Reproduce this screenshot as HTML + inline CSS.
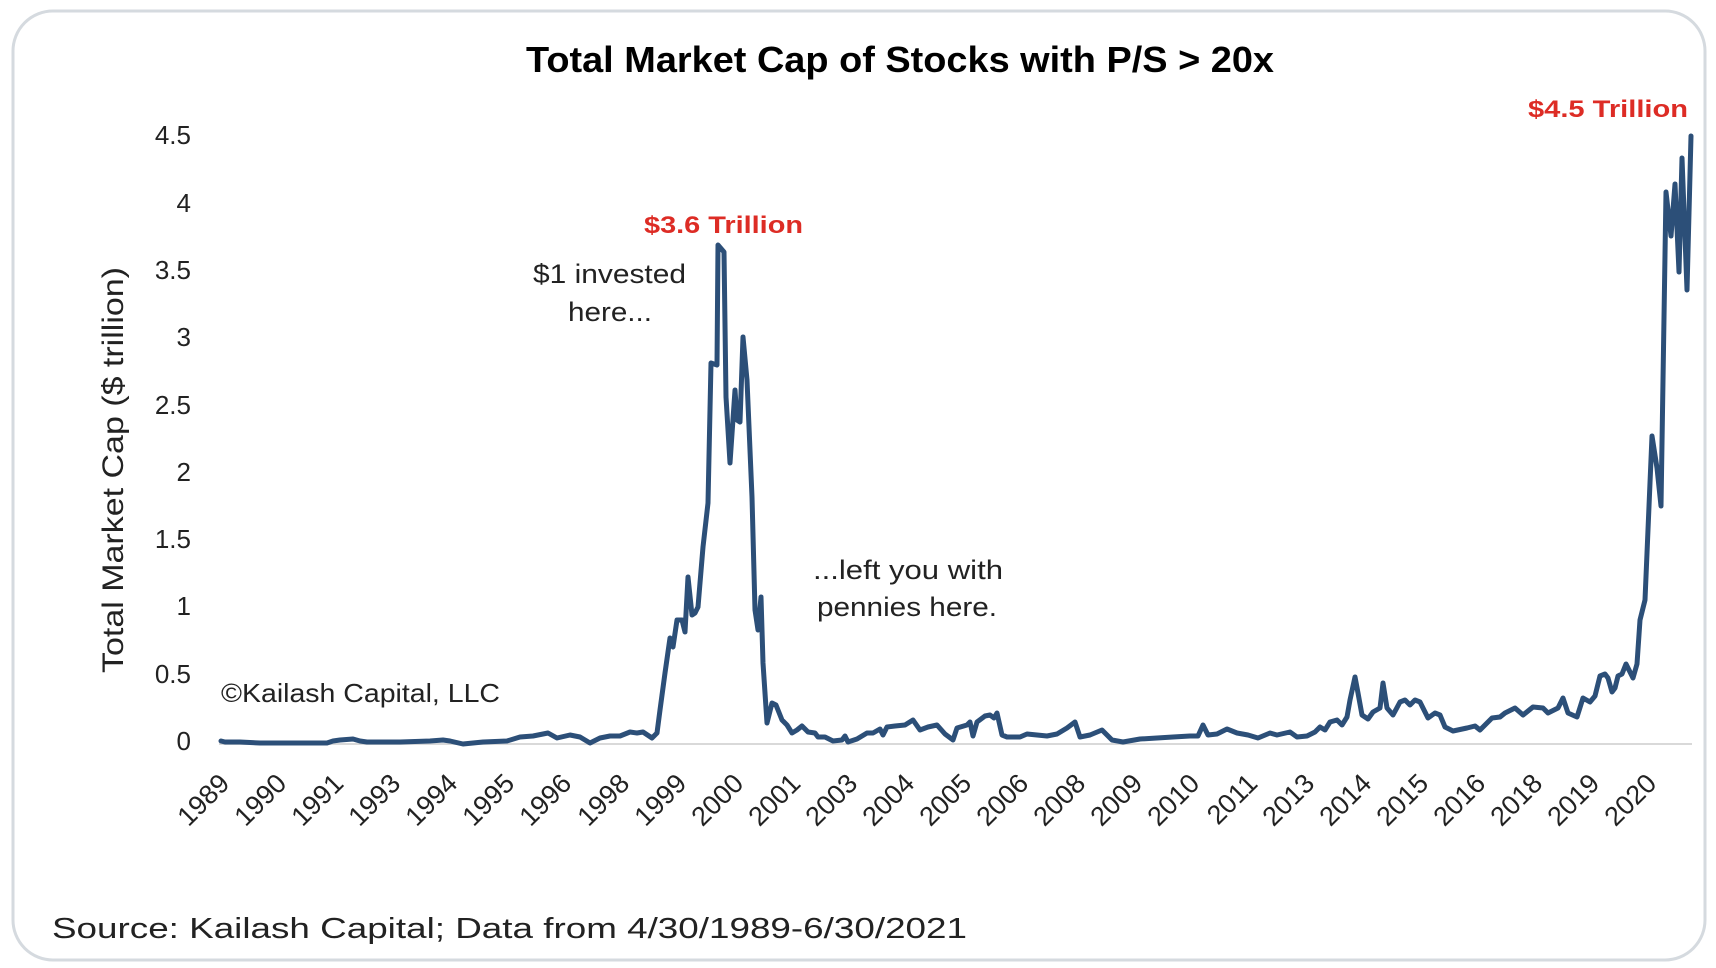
<!DOCTYPE html>
<html>
<head>
<meta charset="utf-8">
<style>
  html, body { margin: 0; padding: 0; background: #ffffff; }
  body { width: 1716px; height: 968px; overflow: hidden; }
  svg { display: block; }
  text { font-family: "Liberation Sans", Arial, sans-serif; }
</style>
</head>
<body>
<svg width="1716" height="968" viewBox="0 0 1716 968" xmlns="http://www.w3.org/2000/svg">
  <rect x="0" y="0" width="1716" height="968" fill="#ffffff"/>
  <!-- card -->
  <rect x="13" y="11" width="1692" height="949" rx="40" ry="40" fill="#ffffff" stroke="#d5dadf" stroke-width="3"/>

  <!-- title -->
  <text x="526" y="72" font-size="36" font-weight="bold" fill="#000" textLength="748" lengthAdjust="spacingAndGlyphs">Total Market Cap of Stocks with P/S &gt; 20x</text>

  <!-- y axis title -->
  <text transform="translate(123,470) rotate(-90)" text-anchor="middle" font-size="30" fill="#222" textLength="406" lengthAdjust="spacingAndGlyphs">Total Market Cap ($ trillion)</text>

  <!-- y tick labels -->
  <g font-size="26" fill="#222" text-anchor="end">
    <text x="191" y="750">0</text>
    <text x="191" y="683">0.5</text>
    <text x="191" y="615">1</text>
    <text x="191" y="548">1.5</text>
    <text x="191" y="481">2</text>
    <text x="191" y="414">2.5</text>
    <text x="191" y="346">3</text>
    <text x="191" y="279">3.5</text>
    <text x="191" y="212">4</text>
    <text x="191" y="144">4.5</text>
  </g>

  <!-- axis line -->
  <line x1="219" y1="744" x2="1692" y2="744" stroke="#d9d9d9" stroke-width="2"/>

  <!-- x tick labels -->
  <g font-size="27" fill="#222" text-anchor="end">
    <text transform="translate(231,785) rotate(-45)">1989</text>
    <text transform="translate(288,785) rotate(-45)">1990</text>
    <text transform="translate(345,785) rotate(-45)">1991</text>
    <text transform="translate(402,785) rotate(-45)">1993</text>
    <text transform="translate(459,785) rotate(-45)">1994</text>
    <text transform="translate(516,785) rotate(-45)">1995</text>
    <text transform="translate(573,785) rotate(-45)">1996</text>
    <text transform="translate(631,785) rotate(-45)">1998</text>
    <text transform="translate(688,785) rotate(-45)">1999</text>
    <text transform="translate(745,785) rotate(-45)">2000</text>
    <text transform="translate(802,785) rotate(-45)">2001</text>
    <text transform="translate(859,785) rotate(-45)">2003</text>
    <text transform="translate(916,785) rotate(-45)">2004</text>
    <text transform="translate(973,785) rotate(-45)">2005</text>
    <text transform="translate(1030,785) rotate(-45)">2006</text>
    <text transform="translate(1087,785) rotate(-45)">2008</text>
    <text transform="translate(1144,785) rotate(-45)">2009</text>
    <text transform="translate(1201,785) rotate(-45)">2010</text>
    <text transform="translate(1259,785) rotate(-45)">2011</text>
    <text transform="translate(1316,785) rotate(-45)">2013</text>
    <text transform="translate(1373,785) rotate(-45)">2014</text>
    <text transform="translate(1430,785) rotate(-45)">2015</text>
    <text transform="translate(1487,785) rotate(-45)">2016</text>
    <text transform="translate(1544,785) rotate(-45)">2018</text>
    <text transform="translate(1601,785) rotate(-45)">2019</text>
    <text transform="translate(1658,785) rotate(-45)">2020</text>
  </g>

  <!-- series -->
  <polyline fill="none" stroke="#2c4f78" stroke-width="5" stroke-linejoin="round" stroke-linecap="round"
    points="221,741 225,742 240,742 260,743 280,743 300,743 327,743 333,741 340,740 353,739 360,741 367,742 400,742 430,741 443,740 450,741 463,744 483,742 507,741 520,737 533,736 548,733 557,738 570,735 580,737 590,743 600,738 610,736 620,736
    630,732 637,733 643,732 652,738 657,733 660,710 665,673 670,638 673,647 677,620 682,620 685,632 688,577 692,615 695,613 698,607 703,547 708,503 711,363 717,365 718,245 724,252 726,397 730,463 735,390 737,420 740,422 743,337 747,380 752,497 755,610 758,630 761,597 763,663 767,723 772,703 776,705 782,720 787,725 792,733 797,730
    802,726 808,732 815,733 818,737 825,737 833,741 842,740 845,736 848,742 857,739 867,733 873,733 880,729 883,735 887,727 895,726 905,725 913,720 920,730 928,727 937,725 945,734 953,740 957,728 967,725 970,722 973,736 977,722 985,716 990,715 994,718 997,713 1002,735 1007,737 1020,737 1027,734 1047,736 1057,734 1067,728 1075,722 1080,737 1090,735 1102,730 1112,740 1123,742 1140,739 1157,738 1173,737 1190,736
    1198,736 1203,725 1208,735 1217,734 1227,729 1237,733 1248,735 1258,738 1270,733 1277,735 1290,732 1297,737 1307,736 1315,732 1320,727 1325,730 1330,722 1337,720 1342,725 1347,717 1350,700 1355,677 1358,693 1362,715 1368,719 1373,712 1380,708 1383,683 1387,708 1393,715 1400,702 1405,700 1410,705 1415,700 1420,702 1428,718 1435,713 1440,715 1445,727 1453,731 1467,728 1475,726 1480,730 1483,727 1492,718 1500,717 1505,713 1515,708 1523,715 1533,707 1543,708 1548,713 1558,708 1563,698 1568,713 1577,717 1583,698 1590,702
    1595,696 1600,676 1605,674 1608,678 1612,692 1615,688 1618,676 1622,674 1626,664 1630,672 1633,678 1637,664 1640,620 1645,600 1652,436 1657,468 1661,506 1666,192 1671,236 1675,184 1679,272 1682,158 1687,290 1691,136"/>

  <!-- annotations -->
  <text x="644" y="233" font-size="24" font-weight="bold" fill="#dd2c25" textLength="159" lengthAdjust="spacingAndGlyphs">$3.6 Trillion</text>
  <text x="1528" y="117" font-size="24" font-weight="bold" fill="#dd2c25" textLength="160" lengthAdjust="spacingAndGlyphs">$4.5 Trillion</text>

  <text x="533" y="283" font-size="27" fill="#222" textLength="153" lengthAdjust="spacingAndGlyphs">$1 invested</text>
  <text x="568" y="321" font-size="27" fill="#222" textLength="84" lengthAdjust="spacingAndGlyphs">here...</text>

  <text x="813" y="579" font-size="27" fill="#222" textLength="190" lengthAdjust="spacingAndGlyphs">...left you with</text>
  <text x="817" y="616" font-size="27" fill="#222" textLength="180" lengthAdjust="spacingAndGlyphs">pennies here.</text>

  <text x="221" y="702" font-size="26" fill="#222" textLength="279" lengthAdjust="spacingAndGlyphs">©Kailash Capital, LLC</text>

  <!-- source -->
  <text x="52" y="938" font-size="29" fill="#222" textLength="915" lengthAdjust="spacingAndGlyphs">Source: Kailash Capital; Data from 4/30/1989-6/30/2021</text>
</svg>
</body>
</html>
